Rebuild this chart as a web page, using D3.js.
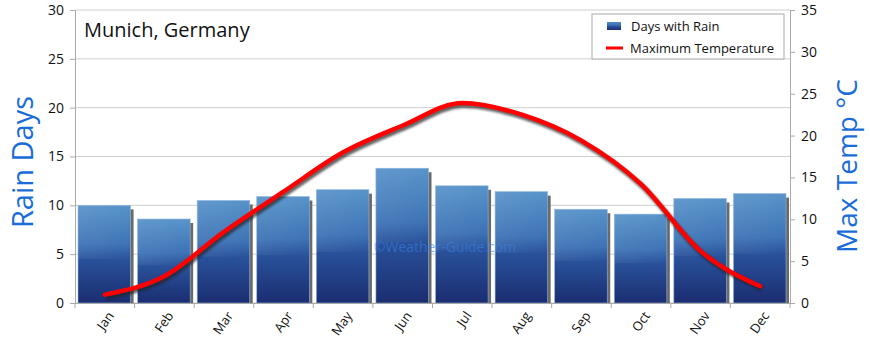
<html>
<head>
<style>
    body { margin: 0; background: #fff; }
    text { font-family: "Open Sans", sans-serif; }
</style>
</head>
<body>
<svg id="chart" width="870" height="352"></svg>
<script src="https://cdn.jsdelivr.net/npm/d3@7"></script>
<script>
    let months = ["Jan", "Feb", "Mar", "Apr", "May", "Jun", "Jul", "Aug", "Sep", "Oct", "Nov", "Dec"]
    let rainDays = [10.0, 8.6, 10.5, 10.9, 11.6, 13.8, 12.0, 11.4, 9.6, 9.1, 10.7, 11.2]
    let maxTemp = [1, 3.2, 8.5, 13.3, 18, 21.2, 23.9, 22.5, 19.4, 14.2, 6.2, 2]
    let rainTicks = [0, 5, 10, 15, 20, 25, 30]
    let tempTicks = [0, 5, 10, 15, 20, 25, 30, 35]

    let svg = d3.select("#chart")
    let plotLeft = 75, plotRight = 790, plotTop = 10, plotBottom = 303

    let x = d3.scaleBand().domain(months).range([plotLeft, plotRight])
    let yRain = d3.scaleLinear().domain([0, 30]).range([plotBottom, plotTop])
    let yTemp = d3.scaleLinear().domain([0, 35]).range([plotBottom, plotTop])

    let defs = svg.append("defs")
    let grad = defs.append("linearGradient").attr("id", "barGrad")
        .attr("x1", 0).attr("y1", 0).attr("x2", 0).attr("y2", 1)
    grad.append("stop").attr("offset", "0%").attr("stop-color", "#4d8cc6")
    grad.append("stop").attr("offset", "40%").attr("stop-color", "#3a70b4")
    grad.append("stop").attr("offset", "55%").attr("stop-color", "#29529b")
    grad.append("stop").attr("offset", "100%").attr("stop-color", "#1b2d70")

    let shine = defs.append("linearGradient").attr("id", "shine")
        .attr("x1", 0).attr("y1", 0).attr("x2", 1).attr("y2", 1)
    shine.append("stop").attr("offset", "0%").attr("stop-color", "#fff").attr("stop-opacity", 0.12)
    shine.append("stop").attr("offset", "100%").attr("stop-color", "#fff").attr("stop-opacity", 0)

    defs.append("filter").attr("id", "blur").append("feGaussianBlur").attr("stdDeviation", 1.2)
    defs.append("filter").attr("id", "softBlur").append("feGaussianBlur").attr("stdDeviation", 0.7)

    // grid
    svg.append("g").selectAll("line")
        .data(rainTicks)
        .enter()
        .append("line")
        .attr("x1", plotLeft).attr("x2", plotRight)
        .attr("y1", d => yRain(d)).attr("y2", d => yRain(d))
        .attr("stroke", "#cfcfcf")

    // left axis
    let leftAxis = svg.append("g")
        .attr("transform", "translate(" + plotLeft + ",0)")
        .call(d3.axisLeft(yRain).tickValues(rainTicks).tickSize(5).tickPadding(6))
    leftAxis.select(".domain").attr("stroke", "#aaa")
    leftAxis.selectAll(".tick line").attr("stroke", "#aaa")
    leftAxis.selectAll("text").attr("font-size", 14).attr("fill", "#111")

    // right axis
    let rightAxis = svg.append("g")
        .attr("transform", "translate(" + plotRight + ",0)")
        .call(d3.axisRight(yTemp).tickValues(tempTicks).tickSize(5).tickPadding(6))
    rightAxis.select(".domain").attr("stroke", "#aaa")
    rightAxis.selectAll(".tick line").attr("stroke", "#aaa")
    rightAxis.selectAll("text").attr("font-size", 14).attr("fill", "#111")

    // bar shadows
    svg.append("g").selectAll("rect")
        .data(months)
        .enter()
        .append("rect")
        .attr("x", (d, i) => x(d) + 7)
        .attr("y", (d, i) => yRain(rainDays[i]) + 4)
        .attr("width", x.bandwidth() - 8)
        .attr("height", (d, i) => plotBottom - yRain(rainDays[i]) - 4)
        .attr("fill", "#6a6a6a")
        .attr("filter", "url(#softBlur)")

    // bars
    svg.append("g").selectAll("rect")
        .data(months)
        .enter()
        .append("rect")
        .attr("x", d => x(d) + 3)
        .attr("y", (d, i) => yRain(rainDays[i]))
        .attr("width", x.bandwidth() - 7)
        .attr("height", (d, i) => plotBottom - yRain(rainDays[i]))
        .attr("fill", "url(#barGrad)")
        .attr("stroke", "#8fb6de")
        .attr("stroke-width", 0.6)

    svg.append("g").selectAll("rect")
        .data(months)
        .enter()
        .append("rect")
        .attr("x", d => x(d) + 3)
        .attr("y", (d, i) => yRain(rainDays[i]))
        .attr("width", x.bandwidth() - 7)
        .attr("height", (d, i) => (plotBottom - yRain(rainDays[i])) * 0.55)
        .attr("fill", "url(#shine)")

    // bottom axis
    let bottomAxis = svg.append("g")
        .attr("transform", "translate(0," + plotBottom + ")")
        .call(d3.axisBottom(x).tickSize(0).tickPadding(0))
    bottomAxis.select(".domain").attr("stroke", "#aaa")
    bottomAxis.selectAll("text")
        .attr("font-size", 13).attr("fill", "#111")
        .attr("text-anchor", "end")
        .attr("transform", "translate(6,10) rotate(-55)")
        .attr("dy", "0.35em")
    svg.append("g").selectAll("line")
        .data(months.concat(["end"]))
        .enter()
        .append("line")
        .attr("x1", (d, i) => plotLeft + i * x.step()).attr("x2", (d, i) => plotLeft + i * x.step())
        .attr("y1", plotBottom).attr("y2", plotBottom + 5)
        .attr("stroke", "#aaa")

    // watermark
    svg.append("text")
        .attr("x", 445).attr("y", 252)
        .attr("text-anchor", "middle")
        .attr("font-size", 14)
        .attr("fill", "#3a7fe0").attr("fill-opacity", 0.6)
        .text("©Weather-Guide.com")

    // temperature line
    let line = d3.line()
        .x((d, i) => x(months[i]) + x.bandwidth() / 2)
        .y(d => yTemp(d))
        .curve(d3.curveMonotoneX)

    svg.append("path")
        .datum(maxTemp)
        .attr("d", line)
        .attr("fill", "none")
        .attr("stroke", "#222")
        .attr("stroke-opacity", 0.7)
        .attr("stroke-width", 5)
        .attr("transform", "translate(1.5,2.5)")
        .attr("filter", "url(#blur)")

    svg.append("path")
        .datum(maxTemp)
        .attr("d", line)
        .attr("fill", "none")
        .attr("stroke", "#ff0000")
        .attr("stroke-width", 4.5)
        .attr("stroke-linecap", "round")

    // title
    svg.append("text")
        .attr("x", 84).attr("y", 37)
        .attr("font-size", 20).attr("fill", "#111")
        .text("Munich, Germany")

    // axis titles
    svg.append("text")
        .attr("transform", "translate(33,162) rotate(-90)")
        .attr("text-anchor", "middle")
        .attr("font-size", 29).attr("fill", "#1a6dd8")
        .text("Rain Days")

    svg.append("text")
        .attr("transform", "translate(857,166) rotate(-90)")
        .attr("text-anchor", "middle")
        .attr("font-size", 28).attr("fill", "#1a6dd8")
        .text("Max Temp °C")

    // legend
    let legend = svg.append("g")
    legend.append("rect")
        .attr("x", 592).attr("y", 14).attr("width", 192).attr("height", 45)
        .attr("fill", "#fff").attr("stroke", "#aaa")
    legend.append("rect")
        .attr("x", 607).attr("y", 22).attr("width", 14).attr("height", 8)
        .attr("fill", "url(#barGrad)")
    legend.append("line")
        .attr("x1", 606).attr("x2", 623).attr("y1", 48).attr("y2", 48)
        .attr("stroke", "#ff0000").attr("stroke-width", 3)
    legend.append("text")
        .attr("x", 631).attr("y", 31)
        .attr("font-size", 13).attr("fill", "#111")
        .text("Days with Rain")
    legend.append("text")
        .attr("x", 630).attr("y", 53)
        .attr("font-size", 13).attr("fill", "#111")
        .text("Maximum Temperature")
</script>
</body>
</html>
